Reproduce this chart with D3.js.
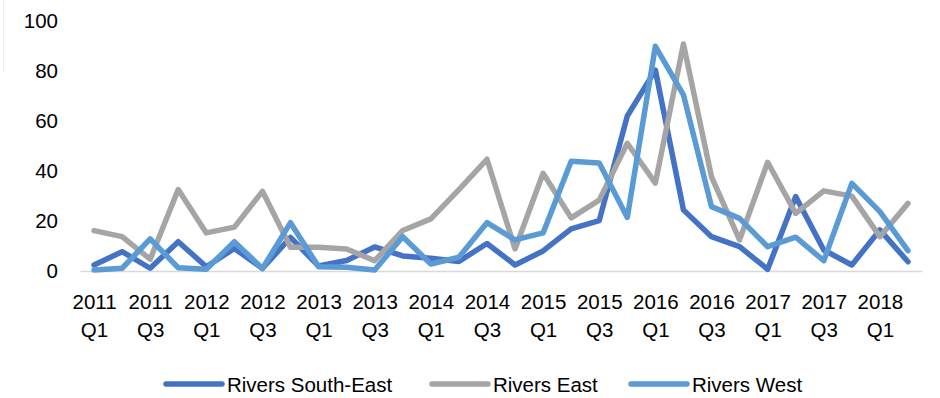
<!DOCTYPE html>
<html>
<head>
<meta charset="utf-8">
<script src="https://cdn.jsdelivr.net/npm/d3@7"></script>
<style>
  html, body { margin: 0; padding: 0; background: #fff; }
  svg { display: block; font-family: "Liberation Sans", Arial, sans-serif; }
</style>
</head>
<body>
<svg id="chart" width="940" height="398"></svg>
<script>
// Quarterly periods, 2011 Q1 – 2018 Q2
const quarters = [
  "2011 Q1","2011 Q2","2011 Q3","2011 Q4",
  "2012 Q1","2012 Q2","2012 Q3","2012 Q4",
  "2013 Q1","2013 Q2","2013 Q3","2013 Q4",
  "2014 Q1","2014 Q2","2014 Q3","2014 Q4",
  "2015 Q1","2015 Q2","2015 Q3","2015 Q4",
  "2016 Q1","2016 Q2","2016 Q3","2016 Q4",
  "2017 Q1","2017 Q2","2017 Q3","2017 Q4",
  "2018 Q1","2018 Q2"
];

const riversSouthEast = [2.4, 7.7, 1.1, 11.7, 1.7, 9.0, 1.0, 13.4, 2.0, 4.2,
                         9.6, 6.0, 5.1, 3.8, 11.0, 2.4, 8.0, 16.8, 20.1, 61.9,
                         80.2, 24.4, 13.7, 9.7, 0.7, 29.7, 8.4, 2.4, 16.4, 3.7];
const riversEast      = [16.1, 13.7, 4.7, 32.5, 15.2, 17.5, 31.8, 9.5, 9.5, 8.8,
                         4.1, 16.2, 20.8, 32.5, 44.6, 8.8, 39.0, 21.2, 28.3, 51.0,
                         35.1, 90.6, 37.6, 12.4, 43.4, 23.0, 32.0, 29.9, 13.7, 27.0];
const riversWest      = [0.4, 1.1, 12.8, 1.3, 0.7, 11.7, 1.0, 19.3, 1.7, 1.5,
                         0.4, 13.7, 2.8, 5.5, 19.3, 12.4, 15.2, 43.8, 43.1, 21.4,
                         89.7, 70.3, 25.7, 21.0, 9.7, 13.5, 4.1, 35.0, 23.7, 8.1];

const yTicks = [0, 20, 40, 60, 80, 100];
const seriesNames = ["Rivers South-East", "Rivers East", "Rivers West"];
const seriesColors = ["#4472C4", "#A5A5A5", "#5B9BD5"];

const series = [
  { name: seriesNames[0], color: seriesColors[0], values: riversSouthEast },
  { name: seriesNames[1], color: seriesColors[1], values: riversEast },
  { name: seriesNames[2], color: seriesColors[2], values: riversWest }
];

const svg = d3.select("#chart");
const fontSize = 20.5;

const x = d3.scalePoint()
  .domain(quarters)
  .range([80, 922])
  .padding(0.5);

const y = d3.scaleLinear()
  .domain([0, 100])
  .range([271, 20.5]);

// faint frame edge at the top-left corner
svg.append("line")
  .attr("x1", 3.5).attr("x2", 3.5)
  .attr("y1", 0).attr("y2", 72)
  .attr("stroke", "#e9eef3")
  .attr("stroke-width", 1);

// Y axis labels (no axis line)
const yAxis = svg.append("g")
  .attr("transform", "translate(58,0)")
  .call(d3.axisLeft(y).tickValues(yTicks).tickSize(0).tickPadding(0));
yAxis.select(".domain").remove();
yAxis.selectAll("text")
  .attr("font-size", fontSize)
  .attr("font-family", "Liberation Sans, Arial, sans-serif")
  .attr("fill", "#000");

// X axis: baseline plus two-line labels on every second quarter
const xAxis = svg.append("g")
  .attr("transform", `translate(0,${y(0)})`)
  .call(d3.axisBottom(x)
    .tickValues(quarters.filter((q, i) => i % 2 === 0))
    .tickSize(0)
    .tickPadding(0));
xAxis.select(".domain")
  .attr("stroke", "#d9d9d9")
  .attr("stroke-width", 1.5);
xAxis.selectAll("text")
  .attr("font-size", fontSize)
  .attr("font-family", "Liberation Sans, Arial, sans-serif")
  .attr("fill", "#000")
  .attr("y", 0)
  .attr("dy", null)
  .text(null)
  .each(function(d) {
    const parts = d.split(" ");
    const t = d3.select(this);
    t.append("tspan").attr("x", 0).attr("y", 38).text(parts[0]);
    t.append("tspan").attr("x", 0).attr("y", 66).text(parts[1]);
  });

// Series lines
const line = d3.line()
  .x((d, i) => x(quarters[i]))
  .y(d => y(d));

svg.append("g")
  .selectAll("path")
  .data(series)
  .join("path")
  .attr("d", s => line(s.values))
  .attr("fill", "none")
  .attr("stroke", s => s.color)
  .attr("stroke-width", 5.5)
  .attr("stroke-linejoin", "round")
  .attr("stroke-linecap", "round");

// Legend
const legendX = [166, 432, 631];
const legend = svg.append("g");
series.forEach((s, i) => {
  const g = legend.append("g").attr("transform", `translate(${legendX[i]},384)`);
  g.append("line")
    .attr("x1", 0).attr("x2", 56)
    .attr("y1", 0).attr("y2", 0)
    .attr("stroke", s.color)
    .attr("stroke-width", 5.5)
    .attr("stroke-linecap", "round");
  g.append("text")
    .attr("x", 61)
    .attr("y", 0)
    .attr("dominant-baseline", "central")
    .attr("font-size", fontSize)
    .attr("fill", "#000")
    .text(s.name);
});
</script>
</body>
</html>
